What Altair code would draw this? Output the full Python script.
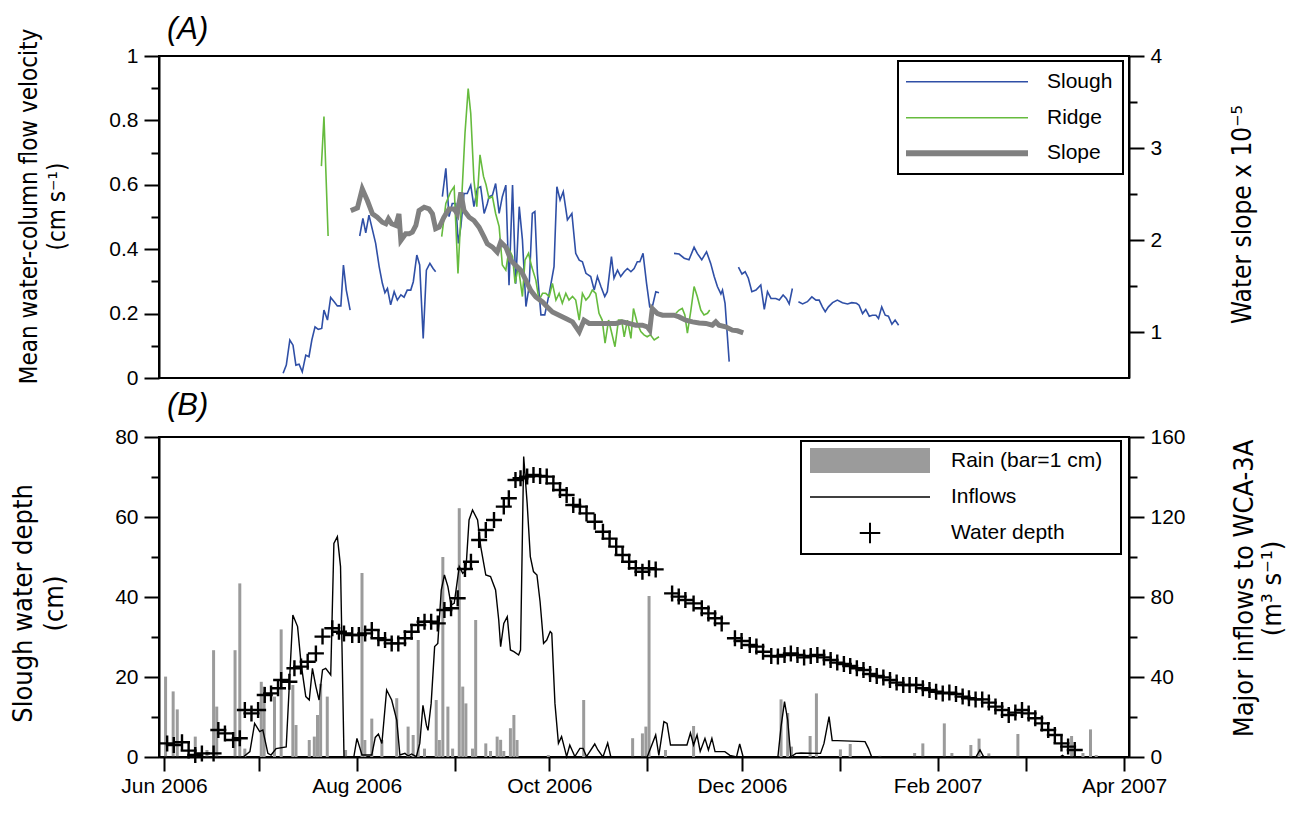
import altair as alt
import pandas as pd

# ---------------- data (x = days after 1 Jun 2006; None = gap) ----------------
slough_day = [38.9, 39.9, 41.0, 42.0, 42.9, 43.9, 44.9, 46.0, 47.0, 47.9, 48.9, 49.9, 51.0, 51.7, 52.8, 53.8, 54.9, 55.9, 57.0, 57.8, 58.7, 59.9, None,
              62.9, 63.9, 64.8, 65.8, 66.9, 67.9, 69.0, 70.0, 70.8, 71.6, 72.6, 73.7, 74.7, 75.8, 76.8, 77.8, 78.9, 79.7, 80.8, 81.7, 82.8, 83.8, 84.9, 85.9, 86.7, None,
              88.8, 89.9, 90.9, 91.9, 93.0, 93.8, 94.6, 95.6, 96.6, 97.7, 98.7, 99.8, 100.8, 101.9, 102.9, 103.4, 104.5, 105.5, 106.6, 107.6,
              108.7, 109.7, 110.8, 111.8, 112.9, 113.9, 115.0, 116.0, 117.0, 117.8, 118.6, 119.7, 120.9, 122.3, 123.8, 124.7, 125.7, 126.7, 128.0, 129.4,
              130.6, 131.7, 132.7, 133.8, 135.3, 136.4, 137.4, 138.5, 139.7, 140.5, 141.8, 142.6, 143.7, 144.7, 145.8, 146.8, 147.9, 148.9, 149.9, 150.7,
              151.7, 152.8, 153.8, 154.6, 155.7, 156.7, None,
              161.4, 163.0, 164.6, 166.1, 167.7, 168.7, 170.1, 171.6, 172.9, 174.0, 175.0, 176.1, 176.6, 177.4, 178.7, None,
              181.6, 182.7, 183.7, 184.7, 185.8, 187.1, 188.6, 189.7, 190.7, 191.8, 193.3, 194.4, 195.6, 196.6, 197.5, 198.5, None,
              200.4, 201.7, 203.2, 204.6, 205.9, 206.9, 207.9, 208.8, 209.8, 211.1, 212.6, 214.2, 215.8, 217.1, 218.6, 219.4, 220.5, 221.5, 222.6, 223.6,
              224.7, 225.5, 226.5, 227.6, 228.6, 229.7, 230.7, 231.8]
slough_vel = [0.015, 0.040, 0.118, 0.102, 0.040, 0.043, 0.019, 0.071, 0.066, 0.118, 0.159, 0.151, 0.154, 0.211, 0.180, 0.250, 0.237, 0.224, 0.224, 0.351, 0.273, 0.211, None,
              0.441, 0.496, 0.451, 0.506, 0.460, 0.418, 0.346, 0.294, 0.265, 0.278, 0.227, 0.268, 0.242, 0.258, 0.251, 0.273, 0.273, 0.299, 0.382, 0.351, 0.123, 0.335, 0.356, 0.340, 0.330, None,
              0.563, 0.651, 0.501, 0.542, 0.542, 0.418, 0.470, 0.573, 0.573, 0.599, 0.532, 0.589, 0.594, 0.511, 0.542, 0.563, 0.568, 0.604, 0.511, 0.563,
              0.599, 0.288, 0.599, 0.293, 0.532, 0.429, 0.222, 0.284, 0.511, 0.517, 0.325, 0.196, 0.196, 0.263, 0.346, 0.594, 0.553, 0.579, 0.491, 0.511,
              0.387, 0.366, 0.361, 0.325, 0.315, 0.273, 0.315, 0.284, 0.253, 0.268, 0.377, 0.310, 0.335, 0.315, 0.330, 0.340, 0.330, 0.340, 0.361, 0.361,
              0.387, 0.294, 0.221, 0.221, 0.268, 0.265, None,
              0.387, 0.385, 0.372, 0.367, 0.406, 0.387, 0.367, 0.392, 0.356, 0.315, 0.284, 0.261, 0.273, 0.232, 0.051, None,
              0.344, 0.323, 0.330, 0.310, 0.268, 0.273, 0.289, 0.213, 0.268, 0.247, 0.247, 0.242, 0.258, 0.247, 0.230, 0.278, None,
              0.237, 0.230, 0.237, 0.252, 0.242, 0.242, 0.221, 0.206, 0.221, 0.234, 0.242, 0.234, 0.230, 0.234, 0.232, 0.226, 0.200, 0.213, 0.192, 0.195,
              0.195, 0.185, 0.221, 0.195, 0.192, 0.167, 0.180, 0.164]

ridge_day = [50.9, 51.7, 53.0, None,
             88.6, 89.9, 91.4, 92.5, 93.7, 94.9, 95.9, 96.9, 97.7, 98.7, 99.6, 100.6, 101.7, 102.5, 103.4, 104.5, 105.5, 106.6, 107.6, 108.7,
             109.7, 110.8, 111.6, 112.6, 113.9, 114.7, 115.8, 116.8, 118.1, 119.1, 120.2, 121.2, 122.3, 123.3, 124.4, 125.4, 126.4, 127.5, 128.5, 129.6,
             130.6, 131.7, 132.7, 133.8, 134.8, 135.8, 136.9, 137.9, 138.9, 139.8, 140.9, 141.9, 142.9, 144.0, 145.0, 145.8, 146.8, 147.9, 148.7, 149.9,
             151.0, 152.0, 153.0, 154.0, 155.2, 156.7, None,
             162.0, 163.0, 164.0, 164.8, 165.6, 166.7, 167.7, 168.7, 169.8, 170.8, 171.9, 172.6]
ridge_vel = [0.658, 0.812, 0.441, None,
             0.439, 0.542, 0.578, 0.594, 0.325, 0.563, 0.760, 0.899, 0.822, 0.615, 0.532, 0.693, 0.626, 0.600, 0.558, 0.563, 0.511, 0.470, 0.351, 0.335,
             0.400, 0.377, 0.294, 0.346, 0.253, 0.366, 0.387, 0.346, 0.304, 0.242, 0.263, 0.263, 0.253, 0.294, 0.242, 0.263, 0.232, 0.263, 0.242, 0.253,
             0.242, 0.180, 0.263, 0.242, 0.253, 0.273, 0.263, 0.201, 0.180, 0.108, 0.180, 0.139, 0.097, 0.180, 0.180, 0.128, 0.180, 0.123, 0.216, 0.170,
             0.144, 0.134, 0.128, 0.134, 0.118, 0.128, None,
             0.201, 0.211, 0.216, 0.196, 0.139, 0.211, 0.284, 0.253, 0.211, 0.196, 0.201, 0.211]

slope_day = [60.1, 62.2, 63.7, 65.3, 66.9, 68.4, 70.0, 71.1, 71.9, 72.9, 74.2, 75.2, 75.8, 77.3, 78.4, 79.4, 80.5, 81.5, 83.1, 84.6,
             85.7, 86.7, 87.8, 89.3, 90.9, 92.5, 93.5, 94.6, 95.6, 97.2, 98.7, 100.3, 101.9, 102.9, 104.5, 106.0, 107.1, 108.7, 110.3, 111.8,
             113.4, 115.0, 116.5, 118.1, 120.2, 121.7, 123.3, 125.4, 127.5, 129.6, 131.7, 133.2, 134.8, 136.9, 138.9, 141.1, 143.2, 145.2, 147.3, 149.4,
             151.5, 153.0, 153.8, 154.6, 156.2, 157.8, 159.9, 161.4, 163.0, 165.1, 167.2, 169.3, 171.4, 173.4, 174.5, 175.5, 177.6, 179.7, 181.3, 183.1]
slope_val = [2.320, 2.349, 2.555, 2.429, 2.284, 2.248, 2.193, 2.176, 2.230, 2.176, 2.158, 2.284, 1.995, 2.068, 2.068, 2.085, 2.158, 2.320, 2.356, 2.338,
             2.284, 2.122, 2.139, 2.248, 2.338, 2.338, 2.284, 2.518, 2.320, 2.248, 2.212, 2.139, 2.031, 1.959, 1.923, 1.868, 1.977, 1.923, 1.778, 1.724,
             1.670, 1.562, 1.453, 1.381, 1.327, 1.272, 1.218, 1.183, 1.147, 1.110, 1.002, 1.128, 1.093, 1.093, 1.093, 1.093, 1.093, 1.110, 1.093, 1.074,
             1.074, 1.056, 1.020, 1.255, 1.201, 1.183, 1.183, 1.183, 1.164, 1.128, 1.110, 1.099, 1.093, 1.074, 1.110, 1.074, 1.056, 1.020, 1.013, 0.991]

depth_day = [1.0, 3.1, 5.7, 7.8, 9.9, 12.0, 15.7, 17.2, 19.3, 21.9, 24.0, 25.6, 27.7, 29.8, 31.9, 33.9, 36.1, 37.1, 39.7, 41.3,
             43.4, 45.5, 48.1, 50.2, 53.3, 55.4, 57.0, 59.6, 61.7, 63.7, 65.8, 67.9, 70.0, 72.1, 74.2, 76.3, 78.4, 80.5, 82.5, 84.6,
             86.7, 88.8, 90.9, 93.0, 95.3, 97.2, 99.8, 101.9, 104.5, 107.6, 109.2, 111.3, 112.9, 115.0, 117.0, 119.1, 121.2, 123.3, 125.4, 127.5,
             129.6, 131.7, 133.8, 136.4, 139.0, 141.1, 143.2, 145.2, 147.3, 149.4, 151.5, 153.6, 155.7, 160.9, 163.0, 165.1, 167.7, 170.3, 172.4, 174.5,
             176.6, 180.8, 182.9, 185.5, 187.6, 189.7, 192.3, 194.4, 196.5, 198.5, 200.6, 202.7, 204.8, 206.9, 209.0, 211.1, 213.2, 215.3, 217.3, 219.4,
             221.5, 223.6, 225.7, 227.8, 229.9, 232.0, 234.1, 236.1, 238.2, 240.3, 242.4, 244.5, 246.6, 248.7, 250.8, 252.9, 254.9, 257.0, 259.1, 261.2,
             263.3, 265.4, 267.5, 269.6, 271.7, 273.8, 275.9, 278.0, 280.0, 282.1, 284.2, 286.3, 288.4]
depth_cm = [3.4, 3.0, 3.7, 1.6, 0.5, 0.9, 0.9, 6.75, 5.9, 4.25, 4.7, 11.75, 10.9, 11.75, 15.5, 15.9, 17.2, 19.25, 18.8, 22.2,
            22.6, 23.8, 25.9, 30.1, 32.2, 31.3, 30.9, 30.5, 30.5, 30.9, 31.75, 29.7, 29.25, 28.4, 28.4, 29.7, 31.3, 33.0, 33.8, 33.8,
            33.4, 36.75, 37.2, 39.7, 47.0, 48.8, 54.25, 56.75, 59.25, 62.6, 64.7, 69.25, 69.7, 70.1, 70.5, 70.25, 70.1, 68.4, 66.75, 65.5,
            63.0, 62.6, 60.9, 58.8, 56.3, 54.6, 52.6, 50.5, 48.8, 47.2, 46.3, 47.2, 46.9, 40.9, 40.1, 39.25, 38.4, 37.2, 35.9, 34.7,
            33.4, 29.7, 29.0, 28.0, 27.6, 26.3, 25.25, 25.1, 25.5, 25.9, 25.5, 24.9, 25.25, 25.5, 24.9, 24.25, 23.6, 23.25, 22.75, 22.2,
            21.75, 20.75, 20.25, 19.9, 19.25, 18.6, 18.0, 18.0, 18.0, 17.2, 16.75, 16.3, 15.9, 16.1, 15.75, 15.1, 14.7, 14.4, 14.4, 13.6,
            12.6, 11.75, 10.5, 11.1, 11.75, 10.9, 9.7, 8.4, 6.75, 5.5, 3.4, 2.6, 1.75]

inflow_day = [0.0, 25.1, 27.2, 28.7, 30.3, 31.3, 32.9, 33.9, 35.5, 38.7, 40.8, 42.3, 43.4, 44.9, 46.0, 47.0, 48.1, 49.1, 50.2, 51.2,
              52.8, 53.8, 54.9, 55.9, 57.0, 60.1, 61.1, 62.7, 65.8, 66.9, 67.9, 69.0, 70.5, 72.1, 73.7, 74.7, 76.3, 77.3, 78.4, 79.9,
              81.0, 82.0, 83.1, 83.6, 84.6, 85.7, 86.7, 87.8, 88.8, 89.9, 90.9, 91.9, 93.5, 94.6, 95.6, 96.6, 97.7, 99.3, 100.3, 101.9,
              103.4, 105.0, 106.0, 106.6, 107.6, 108.7, 109.7, 110.8, 112.3, 112.9, 113.9, 115.0, 116.0, 117.0, 118.1, 119.1, 120.2, 121.2, 122.3, 122.8,
              123.8, 124.9, 125.9, 127.5, 128.5, 130.1, 131.7, 132.7, 133.8, 136.4, 137.4, 139.0, 140.5, 141.5, 153.0, 155.7, 156.7, 158.3, 159.3, 160.4,
              165.6, 166.7, 167.7, 168.8, 169.8, 171.3, 172.4, 173.5, 174.5, 177.6, 179.2, 181.3, 182.3, 183.4, 194.4, 195.4, 196.5, 197.5, 198.5, 200.1,
              201.7, 207.9, 209.0, 210.6, 211.6, 213.2, 222.0, 223.1, 224.1, 257.1, 258.4, 259.6, 283.7, 284.5, 285.3, 288.4]
inflow_m3s = [0.0, 0.0, 2.7, 16.8, 12.7, 13.5, 1.8, 1.0, 4.2, 5.0, 71.0, 65.2, 46.8, 30.2, 28.5, 44.3, 35.2, 28.5, 43.5, 44.3,
              41.0, 106.8, 110.2, 95.2, 0.2, 0.0, 9.3, 1.0, 1.0, 9.8, 11.5, 6.8, 33.5, 28.5, 18.5, 1.0, 1.8, 0.5, 1.5, 0.2,
              6.8, 25.8, 15.8, 13.3, 26.8, 55.2, 56.8, 83.5, 91.0, 85.2, 76.0, 76.8, 95.2, 91.8, 93.5, 118.5, 123.5, 118.5, 105.2, 91.0,
              90.2, 83.5, 68.5, 55.2, 66.8, 70.2, 53.5, 52.7, 51.0, 53.5, 150.2, 126.8, 100.2, 92.7, 91.0, 77.5, 56.8, 58.5, 62.7, 61.8,
              26.8, 6.8, 10.2, 0.2, 6.0, 0.2, 4.3, 4.3, 0.2, 6.5, 3.5, 0.0, 7.0, 0.0, 0.0, 11.0, 0.8, 17.7, 16.8, 6.0,
              6.0, 12.0, 6.0, 11.0, 2.8, 9.3, 3.5, 9.3, 2.7, 2.7, 0.8, 0.0, 6.5, 0.0, 0.0, 15.2, 27.7, 18.5, 0.0, 1.8,
              2.0, 1.8, 6.8, 20.2, 8.2, 8.2, 7.7, 4.2, 0.0, 0.0, 3.5, 0.0, 0.0, 0.8, 0.0, 0.0]

rain_day = [0.5, 2.9, 4.2, 9.9, 13.6, 15.7, 16.7, 22.5, 24.0, 25.6, 30.8, 31.7, 35.0, 37.1, 40.8, 41.8, 46.0, 47.6, 48.6, 49.6,
            51.7, 57.5, 62.7, 63.6, 65.8, 69.0, 73.7, 77.3, 78.9, 80.5, 82.5, 86.2, 87.2, 88.3, 89.9, 91.4, 93.5, 94.6, 95.6, 97.7,
            98.7, 101.9, 103.4, 105.5, 106.6, 107.6, 109.7, 110.8, 111.8, 121.7, 132.9, 148.4, 151.5, 152.6, 153.6, 158.8, 167.7, 195.4, 197.5, 198.7,
            204.6, 206.6, 214.2, 217.3, 226.7, 237.7, 240.3, 247.1, 249.5, 255.5, 258.1, 261.2, 270.4, 287.4, 291.0, 293.4, 295.2]
rain_bar = [20.1, 16.4, 11.9, 5.1, 1.75, 26.7, 12.6, 26.7, 43.4, 2.1, 18.8, 17.6, 15.1, 31.9, 18.0, 8.0, 4.25, 5.1, 10.5, 18.3,
            15.1, 1.75, 46.0, 4.25, 9.6, 4.25, 14.7, 7.6, 5.5, 29.25, 2.1, 14.25, 4.25, 50.0, 12.6, 2.1, 62.2, 17.6, 13.4, 2.1,
            34.25, 3.4, 1.5, 5.1, 4.3, 1.5, 7.2, 10.5, 4.25, 0.5, 14.25, 4.7, 5.9, 7.6, 40.25, 1.75, 7.75, 14.4, 11.0, 2.6,
            5.25, 15.9, 1.9, 3.25, 0.3, 1.0, 3.4, 8.4, 1.0, 3.0, 4.6, 0.9, 5.75, 5.25, 1.0, 6.9, 0.5]

top_legend_labels = ["Slough", "Ridge", "Slope"]
bottom_legend_labels = ["Rain (bar=1 cm)", "Inflows", "Water depth"]

# ---------------- helpers ----------------
START = pd.Timestamp("2006-06-01")


def iso(d):
    return (START + pd.Timedelta(days=d)).strftime("%Y-%m-%dT%H:%M:%SZ")


def frame(days, vals, name):
    rows, seg = [], 0
    for d, v in zip(days, vals):
        if d is None:
            seg += 1
            continue
        rows.append({"date": iso(d), "value": v, "seg": f"{name}{seg}"})
    return pd.DataFrame(rows)


df_slough = frame(slough_day, slough_vel, "s")
df_ridge = frame(ridge_day, ridge_vel, "r")
df_slope = frame(slope_day, slope_val, "p")
df_depth = frame(depth_day, depth_cm, "d")
df_inflow = frame(inflow_day, inflow_m3s, "i")
df_rain = frame(rain_day, rain_bar, "b")

BLUE, GREEN, GREY, RAIN = "#2f4fa6", "#66bb3e", "#808080", "#9b9b9b"
TXT = "Liberation Sans"
TFONT = "Liberation Sans Narrow, DejaVu Sans Condensed, Liberation Sans"
CROSS = "M-1,0H1M0,-1V1"

xscale = alt.Scale(type="utc", nice=False,
                   domain=[alt.DateTime(year=2006, month=6, date=1, utc=True),
                           alt.DateTime(year=2007, month=4, date=1, utc=True)])
months = [(2006, m) for m in range(6, 13)] + [(2007, m) for m in range(1, 5)]
x_bottom_axis = alt.Axis(
    values=[alt.DateTime(year=y, month=m, date=1, utc=True) for y, m in months],
    labelExpr="utcmonth(datum.value) % 2 == 1 ? utcFormat(datum.value, '%b %Y') : ''",
    tickSize=14, labelPadding=4, labelOverlap=False, labelFlush=False, title=None)
X_top = alt.X("date:T", scale=xscale, axis=None)
X_bot = alt.X("date:T", scale=xscale, axis=x_bottom_axis)


def yaxis(orient, values, major_test, title, tx, ty, fs, lh):
    return alt.Axis(
        orient=orient, values=values,
        labelExpr=f"({major_test}) ? format(datum.value, '~g') : ''",
        tickSize={"condition": {"test": major_test, "value": 15}, "value": 8},
        labelPadding=6, title=title, titleAngle=270, titleX=tx, titleY=ty,
        titleBaseline="middle", titleAlign="center", titleLineHeight=lh,
        titleFontSize=fs, labelFlush=False)


ax_vel = yaxis("left", [0, 0.1, 0.2, 0.3, 0.4, 0.5, 0.6, 0.7, 0.8, 0.9, 1.0],
               "round(datum.value*10) % 2 == 0",
               ["Mean water-column flow velocity", "(cm s\u207b\u00b9)"], -130, 150, 24, 28)
ax_slope = yaxis("right", [1, 1.5, 2, 2.5, 3, 3.5, 4], "datum.value % 1 == 0",
                 "Water slope x 10\u207b\u2075", 113, 158, 26, 28)
ax_depth = yaxis("left", [0, 10, 20, 30, 40, 50, 60, 70, 80], "datum.value % 20 == 0",
                 ["Slough water depth", "(cm)"], -136, 166, 27, 31)
ax_inflow = yaxis("right", [0, 20, 40, 60, 80, 100, 120, 140, 160], "datum.value % 40 == 0",
                  ["Major inflows to WCA-3A", "(m\u00b3 s\u207b\u00b9)"], 115, 151, 27, 28)

one = pd.DataFrame({"k": [0]})

# ---------------- panel A ----------------
slough = alt.Chart(df_slough).mark_line(color=BLUE, strokeWidth=1.6).encode(
    x=X_top, y=alt.Y("value:Q", scale=alt.Scale(domain=[0, 1], nice=False), axis=ax_vel),
    detail="seg:N")
ridge = alt.Chart(df_ridge).mark_line(color=GREEN, strokeWidth=1.6).encode(
    x=X_top, y=alt.Y("value:Q", scale=alt.Scale(domain=[0, 1], nice=False), axis=None),
    detail="seg:N")
slope = alt.Chart(df_slope).mark_line(color=GREY, strokeWidth=5).encode(
    x=X_top, y=alt.Y("value:Q", scale=alt.Scale(domain=[0.5, 4], nice=False, zero=False), axis=ax_slope),
    detail="seg:N")

top_leg = [alt.Chart(one).mark_rect(fill="white", stroke="black", strokeWidth=2).encode(
    x=alt.value(739), x2=alt.value(964), y=alt.value(5), y2=alt.value(118))]
for lab, col, w, yy in zip(top_legend_labels, [BLUE, GREEN, GREY], [1.6, 1.6, 6], [25.7, 61.7, 97.3]):
    top_leg.append(alt.Chart(one).mark_rule(color=col, strokeWidth=w).encode(
        x=alt.value(747), x2=alt.value(869), y=alt.value(yy)))
    top_leg.append(alt.Chart(one).mark_text(align="left", baseline="middle", font=TXT, fontSize=21,
                                            color="black").encode(
        x=alt.value(888), y=alt.value(yy), text=alt.value(lab)))

top = alt.layer(slough, ridge, slope, *top_leg).resolve_scale(y="independent").properties(
    width=970, height=322,
    title=alt.TitleParams("(A)", anchor="start", frame="group", fontStyle="italic", fontWeight="normal",
                          font=TXT, fontSize=31, dx=8, offset=-18))

# ---------------- panel B ----------------
rain = alt.Chart(df_rain).mark_bar(color=RAIN, size=3).encode(
    x=X_bot, y=alt.Y("value:Q", scale=alt.Scale(domain=[0, 80], nice=False), axis=ax_depth))
inflow = alt.Chart(df_inflow).mark_line(color="black", strokeWidth=1.4).encode(
    x=X_bot, y=alt.Y("value:Q", scale=alt.Scale(domain=[0, 160], nice=False), axis=ax_inflow),
    detail="seg:N")
depth = alt.Chart(df_depth).mark_point(shape=CROSS, size=256, color="black", strokeWidth=2.4,
                                       filled=False, opacity=1).encode(
    x=X_bot, y=alt.Y("value:Q", scale=alt.Scale(domain=[0, 80], nice=False), axis=None))

bot_leg = [
    alt.Chart(one).mark_rect(fill="white", stroke="black", strokeWidth=2).encode(
        x=alt.value(642), x2=alt.value(962), y=alt.value(4), y2=alt.value(117)),
    alt.Chart(one).mark_rect(fill=RAIN).encode(
        x=alt.value(651), x2=alt.value(771), y=alt.value(11), y2=alt.value(36)),
    alt.Chart(one).mark_rule(color="black", strokeWidth=1.6).encode(
        x=alt.value(651), x2=alt.value(771), y=alt.value(60)),
    alt.Chart(one).mark_point(shape=CROSS, size=420, color="black", strokeWidth=2,
                              filled=False, opacity=1).encode(
        x=alt.value(711), y=alt.value(96)),
]
for lab, yy in zip(bottom_legend_labels, [24, 60, 96]):
    bot_leg.append(alt.Chart(one).mark_text(align="left", baseline="middle", font=TXT, fontSize=21,
                                            color="black").encode(
        x=alt.value(792), y=alt.value(yy), text=alt.value(lab)))

bottom = alt.layer(rain, inflow, depth, *bot_leg).resolve_scale(y="independent").properties(
    width=970, height=320,
    title=alt.TitleParams("(B)", anchor="start", frame="group", fontStyle="italic", fontWeight="normal",
                          font=TXT, fontSize=31, dx=8, offset=4))

chart = alt.vconcat(top, bottom, spacing=0).properties(
    padding={"left": 0, "top": 5, "right": 0, "bottom": 4}
).configure_axis(
    labelFont=TXT, labelFontSize=21, labelColor="black",
    titleFont=TFONT, titleFontWeight="normal", titleColor="black",
    domainColor="black", domainWidth=2, tickColor="black", tickWidth=2, grid=False
).configure_view(stroke="black", strokeWidth=2)

chart.save("out.html", embed_options={"renderer": "svg", "actions": False})
